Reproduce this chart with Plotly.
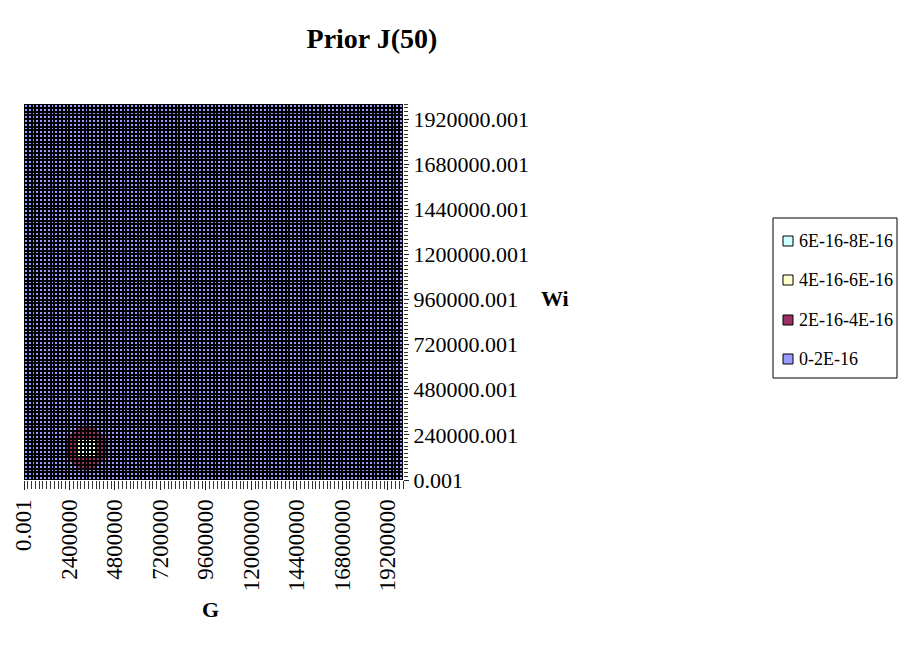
import plotly.graph_objects as go

# ---- data ----
G_tick_vals = [0.001, 2400000.001, 4800000.001, 7200000.001, 9600000.001,
               12000000.001, 14400000.001, 16800000.001, 19200000.001]
G_tick_text = ["0.001", "2400000", "4800000", "7200000", "9600000",
               "12000000", "14400000", "16800000", "19200000"]
Wi_tick_vals = [0.001, 240000.001, 480000.001, 720000.001, 960000.001,
                1200000.001, 1440000.001, 1680000.001, 1920000.001]
Wi_tick_text = ["0.001", "240000.001", "480000.001", "720000.001", "960000.001",
                "1200000.001", "1440000.001", "1680000.001", "1920000.001"]

G_start, G_step, G_count = 0.001, 200000, 100
Wi_start, Wi_step, Wi_count = 0.001, 20000, 100
G_edges = [G_start + G_step * i for i in range(G_count + 1)]
Wi_edges = [Wi_start + Wi_step * i for i in range(Wi_count + 1)]

# peak region values (x1e-16), rows = Wi cells 3..13, cols = G cells 11..21
peak_G_first = 11
peak_Wi_first = 3
peak_values = [
    [0.6, 1.1, 1.6, 2.01, 2.05, 2.1, 2.05, 2.01, 1.6, 1.1, 0.6],
    [1.1, 1.8, 2.1, 2.5, 2.8, 2.9, 2.8, 2.5, 2.1, 1.8, 1.1],
    [1.6, 2.1, 2.7, 3.2, 3.7, 3.9, 3.7, 3.2, 2.7, 2.1, 1.6],
    [2.01, 2.5, 3.2, 4.1, 5.0, 5.4, 5.0, 4.1, 3.2, 2.5, 2.01],
    [2.05, 2.8, 3.7, 5.0, 6.2, 6.9, 6.2, 5.0, 3.7, 2.8, 2.05],
    [2.1, 2.9, 3.9, 5.4, 6.9, 7.6, 6.9, 5.4, 3.9, 2.9, 2.1],
    [2.05, 2.8, 3.7, 5.0, 6.2, 6.9, 6.2, 5.0, 3.7, 2.8, 2.05],
    [2.01, 2.5, 3.2, 4.1, 5.0, 5.4, 5.0, 4.1, 3.2, 2.5, 2.01],
    [1.6, 2.1, 2.7, 3.2, 3.7, 3.9, 3.7, 3.2, 2.7, 2.1, 1.6],
    [1.1, 1.8, 2.1, 2.5, 2.8, 2.9, 2.8, 2.5, 2.1, 1.8, 1.1],
    [0.6, 1.1, 1.6, 2.01, 2.05, 2.1, 2.05, 2.01, 1.6, 1.1, 0.6],
]
background_value = 0.0

band_labels = ["6E-16-8E-16", "4E-16-6E-16", "2E-16-4E-16", "0-2E-16"]
band_colors = ["#CCFFFF", "#FFFFCC", "#993366", "#9999FF"]

# ---- build grid ----
z = [[background_value for _ in range(G_count)] for _ in range(Wi_count)]
for r, row in enumerate(peak_values):
    for c, v in enumerate(row):
        z[peak_Wi_first + r][peak_G_first + c] = v * 1e-16

colorscale = [
    [0.0, band_colors[3]], [0.25, band_colors[3]],
    [0.25, band_colors[2]], [0.5, band_colors[2]],
    [0.5, band_colors[1]], [0.75, band_colors[1]],
    [0.75, band_colors[0]], [1.0, band_colors[0]],
]

FONT = "Liberation Serif, Times New Roman, serif"

fig = go.Figure()
fig.add_trace(go.Heatmap(
    x=G_edges, y=Wi_edges, z=z, zmin=0, zmax=8e-16,
    colorscale=colorscale, showscale=False, xgap=2, ygap=2,
    hoverinfo="skip",
))

fig.update_layout(
    width=907, height=656,
    margin=dict(l=24, r=504, t=104, b=176),
    paper_bgcolor="white", plot_bgcolor="black",
    showlegend=False,
    font=dict(family=FONT, color="black", size=22),
    title=dict(text="<b>Prior J(50)</b>", x=372 / 907, xanchor="center",
               y=1 - 38 / 656, yanchor="middle", xref="container", yref="container",
               font=dict(family=FONT, size=28, color="black")),
)

fig.update_xaxes(
    range=[G_edges[0], G_edges[-1]], showgrid=False, zeroline=False,
    automargin=False,
    tickmode="array", tickvals=G_tick_vals, ticktext=G_tick_text,
    tickangle=-90, ticks="outside", ticklen=9, tickcolor="#222", tickwidth=1,
    tickfont=dict(family=FONT, size=23, color="black"),
    minor=dict(tickmode="array", tickvals=G_edges, ticks="outside", ticklen=8,
               tickcolor="#333", tickwidth=1, showgrid=False),
    showline=False,
)
fig.update_yaxes(
    range=[Wi_edges[0], Wi_edges[-1]], showgrid=False, zeroline=False,
    automargin=False,
    side="right",
    tickmode="array", tickvals=Wi_tick_vals, ticktext=Wi_tick_text,
    ticks="outside", ticklen=5, tickcolor="#222", tickwidth=1,
    tickfont=dict(family=FONT, size=22, color="black"),
    minor=dict(tickmode="array", tickvals=Wi_edges, ticks="outside", ticklen=4,
               tickcolor="#333", tickwidth=1, showgrid=False),
    showline=False,
)

# axis titles
fig.add_annotation(text="<b>G</b>", xref="paper", yref="paper",
                   x=(210 - 24) / 379, y=(480 - 609) / 376, showarrow=False,
                   font=dict(family=FONT, size=22, color="black"),
                   xanchor="center", yanchor="middle")
fig.add_annotation(text="<b>Wi</b>", xref="paper", yref="paper",
                   x=(555 - 24) / 379, y=(480 - 298) / 376, showarrow=False,
                   font=dict(family=FONT, size=22, color="black"),
                   xanchor="center", yanchor="middle")

# legend (manual)
def px_x(v):
    return (v - 24) / 379

def px_y(v):
    return (480 - v) / 376

fig.add_shape(type="rect", xref="paper", yref="paper",
              x0=px_x(773), x1=px_x(897), y0=px_y(378), y1=px_y(218),
              line=dict(color="black", width=1), fillcolor="white")
entry_y = [241, 280, 320, 359]
for lab, col, yy in zip(band_labels, band_colors, entry_y):
    fig.add_shape(type="rect", xref="paper", yref="paper",
                  x0=px_x(783), x1=px_x(793), y0=px_y(yy + 5), y1=px_y(yy - 5),
                  line=dict(color="black", width=1), fillcolor=col)
    fig.add_annotation(text=lab, xref="paper", yref="paper",
                       x=px_x(797), y=px_y(yy), showarrow=False,
                       xanchor="left", yanchor="middle",
                       font=dict(family=FONT, size=18, color="black"))

fig.write_html("out.html", config={"displayModeBar": False},
               post_script="document.body.style.margin='0';")
